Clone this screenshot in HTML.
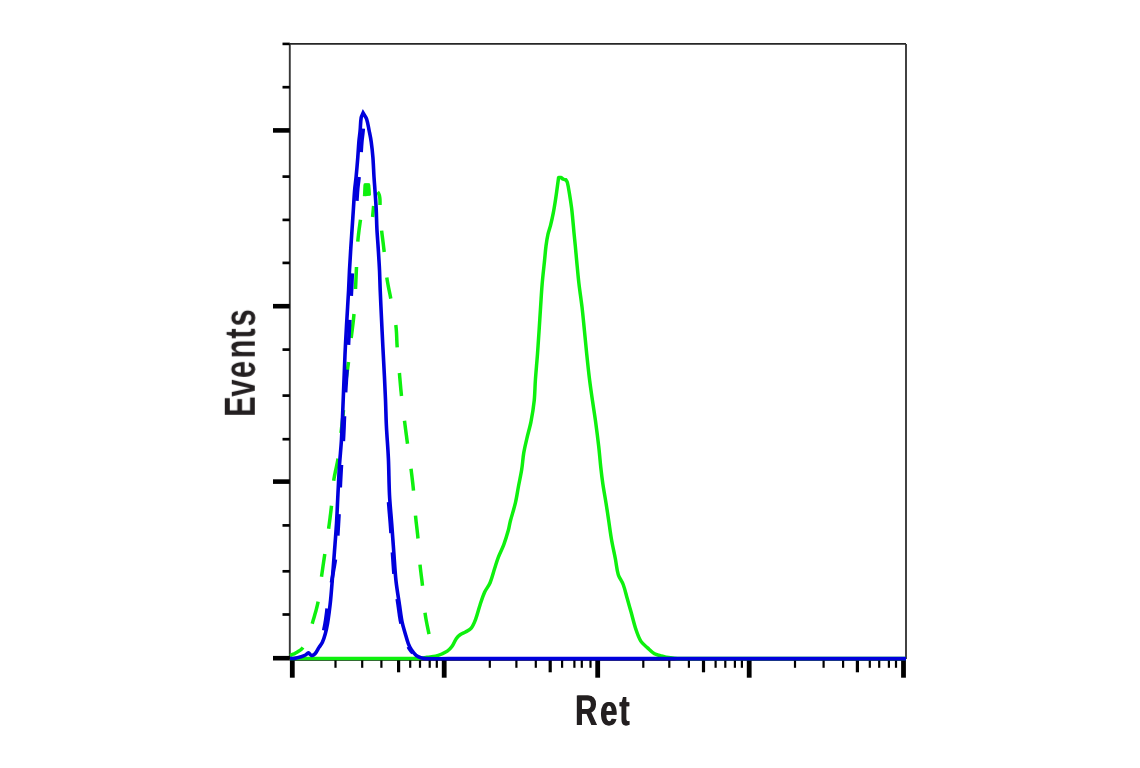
<!DOCTYPE html>
<html><head><meta charset="utf-8"><title>Ret flow cytometry histogram</title>
<style>
html,body{margin:0;padding:0;background:#fff;}
body{width:1140px;height:768px;overflow:hidden;position:relative;font-family:"Liberation Sans",sans-serif;}
svg{position:absolute;left:0;top:0;}
.lbl{font-family:"Liberation Sans",sans-serif;font-weight:bold;fill:#231f20;text-rendering:geometricPrecision;}
</style></head>
<body>
<svg width="1140" height="768" viewBox="0 0 1140 768">
<rect width="1140" height="768" fill="#fff"/>
<line x1="289.8" y1="43.9" x2="906.0" y2="43.9" stroke="#262626" stroke-width="1.7"/>
<line x1="289.8" y1="43.9" x2="289.8" y2="659.0" stroke="#383838" stroke-width="1.9"/>
<line x1="906.0" y1="43.9" x2="906.0" y2="659.0" stroke="#383838" stroke-width="1.9"/>
<line x1="289.8" y1="659.3" x2="906.0" y2="659.3" stroke="#000" stroke-width="3"/>
<line x1="282.5" y1="43.9" x2="289.8" y2="43.9" stroke="#000" stroke-width="2.6"/>
<line x1="282.5" y1="87.2" x2="289.8" y2="87.2" stroke="#000" stroke-width="2.7"/>
<line x1="282.5" y1="176.6" x2="289.8" y2="176.6" stroke="#000" stroke-width="2.7"/>
<line x1="282.5" y1="219.9" x2="289.8" y2="219.9" stroke="#000" stroke-width="2.7"/>
<line x1="282.5" y1="262.9" x2="289.8" y2="262.9" stroke="#000" stroke-width="2.7"/>
<line x1="282.5" y1="349.6" x2="289.8" y2="349.6" stroke="#000" stroke-width="2.7"/>
<line x1="282.5" y1="395.6" x2="289.8" y2="395.6" stroke="#000" stroke-width="2.7"/>
<line x1="282.5" y1="439.2" x2="289.8" y2="439.2" stroke="#000" stroke-width="2.7"/>
<line x1="282.5" y1="525.4" x2="289.8" y2="525.4" stroke="#000" stroke-width="2.7"/>
<line x1="282.5" y1="571.3" x2="289.8" y2="571.3" stroke="#000" stroke-width="2.7"/>
<line x1="282.5" y1="614.5" x2="289.8" y2="614.5" stroke="#000" stroke-width="2.7"/>
<line x1="273" y1="130.4" x2="289.8" y2="130.4" stroke="#000" stroke-width="4.6"/>
<line x1="273" y1="306.2" x2="289.8" y2="306.2" stroke="#000" stroke-width="4.6"/>
<line x1="273" y1="481.6" x2="289.8" y2="481.6" stroke="#000" stroke-width="4.6"/>
<line x1="273" y1="658.2" x2="289.8" y2="658.2" stroke="#000" stroke-width="4.6"/>
<line x1="335.5" y1="659" x2="335.5" y2="667.8" stroke="#000" stroke-width="2.2"/>
<line x1="362.2" y1="659" x2="362.2" y2="667.8" stroke="#000" stroke-width="2.2"/>
<line x1="381.4" y1="659" x2="381.4" y2="667.8" stroke="#000" stroke-width="2.2"/>
<line x1="410.2" y1="659" x2="410.2" y2="667.8" stroke="#000" stroke-width="2.2"/>
<line x1="420.0" y1="659" x2="420.0" y2="667.8" stroke="#000" stroke-width="2.2"/>
<line x1="429.7" y1="659" x2="429.7" y2="667.8" stroke="#000" stroke-width="2.2"/>
<line x1="436.8" y1="659" x2="436.8" y2="667.8" stroke="#000" stroke-width="2.2"/>
<line x1="489.8" y1="659" x2="489.8" y2="667.8" stroke="#000" stroke-width="2.2"/>
<line x1="516.4" y1="659" x2="516.4" y2="667.8" stroke="#000" stroke-width="2.2"/>
<line x1="535.8" y1="659" x2="535.8" y2="667.8" stroke="#000" stroke-width="2.2"/>
<line x1="562.1" y1="659" x2="562.1" y2="667.8" stroke="#000" stroke-width="2.2"/>
<line x1="574.4" y1="659" x2="574.4" y2="667.8" stroke="#000" stroke-width="2.2"/>
<line x1="581.8" y1="659" x2="581.8" y2="667.8" stroke="#000" stroke-width="2.2"/>
<line x1="590.5" y1="659" x2="590.5" y2="667.8" stroke="#000" stroke-width="2.2"/>
<line x1="643.3" y1="659" x2="643.3" y2="667.8" stroke="#000" stroke-width="2.2"/>
<line x1="669.3" y1="659" x2="669.3" y2="667.8" stroke="#000" stroke-width="2.2"/>
<line x1="688.9" y1="659" x2="688.9" y2="667.8" stroke="#000" stroke-width="2.2"/>
<line x1="715.6" y1="659" x2="715.6" y2="667.8" stroke="#000" stroke-width="2.2"/>
<line x1="725.3" y1="659" x2="725.3" y2="667.8" stroke="#000" stroke-width="2.2"/>
<line x1="734.9" y1="659" x2="734.9" y2="667.8" stroke="#000" stroke-width="2.2"/>
<line x1="741.9" y1="659" x2="741.9" y2="667.8" stroke="#000" stroke-width="2.2"/>
<line x1="795.0" y1="659" x2="795.0" y2="667.8" stroke="#000" stroke-width="2.2"/>
<line x1="823.6" y1="659" x2="823.6" y2="667.8" stroke="#000" stroke-width="2.2"/>
<line x1="843.1" y1="659" x2="843.1" y2="667.8" stroke="#000" stroke-width="2.2"/>
<line x1="869.8" y1="659" x2="869.8" y2="667.8" stroke="#000" stroke-width="2.2"/>
<line x1="879.2" y1="659" x2="879.2" y2="667.8" stroke="#000" stroke-width="2.2"/>
<line x1="888.9" y1="659" x2="888.9" y2="667.8" stroke="#000" stroke-width="2.2"/>
<line x1="896.0" y1="659" x2="896.0" y2="667.8" stroke="#000" stroke-width="2.2"/>
<line x1="398.6" y1="659" x2="398.6" y2="672.3" stroke="#000" stroke-width="3.2"/>
<line x1="550.2" y1="659" x2="550.2" y2="672.3" stroke="#000" stroke-width="3.2"/>
<line x1="703.5" y1="659" x2="703.5" y2="672.3" stroke="#000" stroke-width="3.2"/>
<line x1="857.4" y1="659" x2="857.4" y2="672.3" stroke="#000" stroke-width="3.2"/>
<line x1="292.3" y1="659" x2="292.3" y2="677.7" stroke="#000" stroke-width="4.8"/>
<line x1="444.2" y1="659" x2="444.2" y2="677.7" stroke="#000" stroke-width="4.8"/>
<line x1="597.7" y1="659" x2="597.7" y2="677.7" stroke="#000" stroke-width="4.8"/>
<line x1="749.2" y1="659" x2="749.2" y2="677.7" stroke="#000" stroke-width="4.8"/>
<line x1="903.5" y1="659" x2="903.5" y2="677.7" stroke="#000" stroke-width="4.8"/>
<path d="M290.00,655.50 L290.50,655.28 L291.01,655.07 L291.52,654.86 L292.03,654.65 L292.54,654.45 L293.05,654.24 L293.56,654.03 L294.06,653.81 L294.56,653.58 L295.05,653.33 L295.53,653.08 L296.00,652.80 L296.63,652.42 L297.26,652.04 L297.90,651.65 L298.53,651.25 L299.16,650.85 L299.78,650.43 L300.39,649.99 L300.97,649.54 L301.53,649.07 L302.06,648.57 L302.55,648.05 L303.00,647.50 M312.20,623.70 L312.73,621.88 L313.26,620.05 L313.80,618.23 L314.33,616.40 L314.86,614.58 L315.38,612.75 L315.89,610.92 L316.38,609.09 L316.85,607.25 L317.30,605.40 L317.71,603.55 L318.10,601.70 M321.50,576.70 L321.77,574.81 L322.04,572.91 L322.31,571.02 L322.58,569.13 L322.85,567.24 L323.13,565.35 L323.41,563.46 L323.68,561.56 L323.96,559.67 L324.24,557.78 L324.52,555.89 L324.80,554.00 M328.60,528.70 L328.86,526.79 L329.13,524.87 L329.39,522.96 L329.64,521.04 L329.89,519.13 L330.14,517.21 L330.38,515.29 L330.62,513.38 L330.85,511.46 L331.08,509.54 L331.29,507.62 L331.50,505.70 M333.70,480.70 L333.98,478.85 L334.30,477.00 L334.64,475.16 L335.02,473.32 L335.41,471.48 L335.81,469.65 L336.21,467.81 L336.61,465.97 L336.99,464.14 L337.36,462.30 L337.70,460.45 L338.00,458.60 M341.00,433.00 L341.22,431.08 L341.44,429.17 L341.66,427.25 L341.87,425.34 L342.09,423.42 L342.31,421.51 L342.52,419.59 L342.72,417.67 L342.93,415.76 L343.13,413.84 L343.32,411.92 L343.50,410.00 M345.50,385.00 L345.71,383.08 L345.94,381.16 L346.18,379.24 L346.43,377.33 L346.69,375.41 L346.95,373.50 L347.22,371.58 L347.49,369.67 L347.75,367.75 L348.01,365.83 L348.26,363.92 L348.50,362.00 M351.20,338.00 L351.43,336.00 L351.68,334.00 L351.93,332.00 L352.18,330.00 L352.43,328.01 L352.68,326.01 L352.93,324.01 L353.17,322.01 L353.39,320.01 L353.61,318.01 L353.81,316.00 L354.00,314.00 M355.50,289.00 L355.59,287.17 L355.68,285.33 L355.77,283.50 L355.85,281.67 L355.93,279.83 L356.01,278.00 L356.09,276.17 L356.17,274.33 L356.25,272.50 L356.33,270.67 L356.41,268.83 L356.50,267.00 M357.80,241.60 L357.96,239.77 L358.14,237.94 L358.33,236.11 L358.54,234.28 L358.75,232.46 L358.98,230.63 L359.22,228.81 L359.46,226.98 L359.71,225.16 L359.97,223.34 L360.23,221.52 L360.50,219.70 M364.50,196.00 L364.62,195.09 L364.72,194.18 L364.80,193.26 L364.87,192.35 L364.93,191.43 L364.99,190.51 L365.04,189.59 L365.09,188.67 L365.13,187.75 L365.18,186.84 L365.24,185.92 L365.30,185.00 L365.57,185.00 L365.85,185.00 L366.12,185.00 L366.40,185.00 L366.67,185.00 L366.95,185.00 L367.23,185.00 L367.50,185.00 L367.78,185.00 L368.05,185.00 L368.33,185.00 L368.60,185.00 L368.65,185.83 L368.70,186.67 L368.75,187.50 L368.80,188.33 L368.85,189.17 L368.90,190.00 L368.95,190.83 L369.00,191.67 L369.05,192.50 L369.10,193.33 L369.15,194.17 L369.20,195.00 M377.58,191.98 L377.85,192.29 L378.11,192.64 L378.35,193.01 L378.57,193.42 L378.77,193.84 L378.96,194.27 L379.13,194.71 L379.27,195.15 L379.40,195.58 L379.50,196.00 L379.64,196.72 L379.76,197.45 L379.85,198.19 L379.91,198.94 L379.96,199.69 L379.99,200.45 L380.01,201.21 L380.01,201.97 L380.01,202.73 L380.01,203.49 L380.00,204.25 L380.00,205.00 M381.60,230.60 L381.82,232.38 L382.04,234.17 L382.27,235.95 L382.49,237.73 L382.71,239.51 L382.93,241.30 L383.15,243.08 L383.37,244.86 L383.58,246.65 L383.79,248.43 L384.00,250.21 L384.20,252.00 M386.80,277.50 L387.06,279.27 L387.35,281.03 L387.66,282.80 L387.99,284.55 L388.33,286.31 L388.68,288.07 L389.03,289.82 L389.39,291.58 L389.75,293.33 L390.11,295.09 L390.46,296.84 L390.80,298.60 M395.80,325.00 L396.02,326.85 L396.20,328.70 L396.35,330.55 L396.47,332.41 L396.57,334.27 L396.65,336.13 L396.73,337.99 L396.80,339.86 L396.88,341.72 L396.97,343.58 L397.07,345.44 L397.20,347.30 M399.40,373.00 L399.57,374.92 L399.73,376.83 L399.90,378.75 L400.06,380.67 L400.23,382.59 L400.40,384.51 L400.57,386.42 L400.74,388.34 L400.92,390.26 L401.11,392.17 L401.30,394.09 L401.50,396.00 M404.50,420.80 L404.74,422.71 L404.98,424.63 L405.23,426.54 L405.47,428.45 L405.72,430.37 L405.97,432.28 L406.22,434.19 L406.48,436.10 L406.73,438.02 L406.98,439.93 L407.24,441.84 L407.50,443.75 M411.00,468.75 L411.23,470.57 L411.46,472.39 L411.68,474.21 L411.91,476.02 L412.12,477.84 L412.34,479.67 L412.54,481.49 L412.75,483.31 L412.94,485.13 L413.14,486.95 L413.32,488.78 L413.50,490.60 M415.50,515.60 L415.69,517.51 L415.89,519.42 L416.09,521.33 L416.31,523.24 L416.53,525.14 L416.76,527.05 L416.98,528.96 L417.20,530.86 L417.41,532.77 L417.62,534.68 L417.82,536.59 L418.00,538.50 M420.00,564.60 L420.18,566.36 L420.37,568.12 L420.57,569.88 L420.78,571.64 L421.00,573.40 L421.23,575.15 L421.45,576.91 L421.68,578.67 L421.90,580.42 L422.11,582.18 L422.31,583.94 L422.50,585.70 M425.00,612.80 L425.25,614.59 L425.53,616.39 L425.83,618.17 L426.15,619.96 L426.48,621.74 L426.83,623.53 L427.19,625.31 L427.55,627.09 L427.91,628.86 L428.28,630.64 L428.64,632.42 L429.00,634.20" fill="none" stroke="#0ef00e" stroke-width="3.5" stroke-linecap="butt" stroke-linejoin="round"/>
<path d="M290.00,658.50 C333.33,658.47 376.69,658.78 420.00,658.40 C422.36,658.38 424.66,657.63 427.00,657.30 C429.83,656.90 432.73,656.82 435.50,656.20 C437.66,655.72 439.76,654.87 441.80,654.00 C443.69,653.20 445.66,652.40 447.30,651.20 C449.03,649.93 450.66,648.35 451.90,646.60 C453.69,644.08 454.64,640.93 456.40,638.40 C457.37,637.00 458.71,635.78 460.10,634.80 C461.74,633.65 463.75,633.03 465.50,632.00 C467.39,630.89 469.68,630.06 471.00,628.40 C473.05,625.83 474.39,622.46 475.60,619.30 C477.42,614.56 478.49,609.53 480.10,604.70 C481.52,600.43 482.84,596.08 484.70,592.00 C486.17,588.78 488.73,586.06 490.10,582.80 C492.06,578.16 493.15,573.13 494.70,568.30 C495.88,564.63 496.92,560.90 498.30,557.30 C499.95,553.00 502.20,548.92 503.80,544.60 C505.57,539.82 507.03,534.91 508.40,530.00 C509.16,527.28 509.49,524.44 510.20,521.70 C511.83,515.41 513.92,509.22 515.40,502.90 C516.69,497.41 517.45,491.80 518.50,486.25 C519.55,480.70 520.82,475.18 521.70,469.60 C522.57,464.06 522.83,458.43 523.75,452.90 C524.57,447.99 525.77,443.15 526.90,438.30 C528.19,432.75 529.91,427.29 531.00,421.70 C532.35,414.79 533.46,407.80 534.20,400.80 C534.93,393.90 534.91,386.93 535.40,380.00 C536.01,371.26 536.85,362.54 537.50,353.80 C538.08,345.97 538.58,338.13 539.10,330.30 C539.62,322.50 540.08,314.70 540.60,306.90 C541.12,299.07 541.53,291.22 542.20,283.40 C542.87,275.59 543.81,267.80 544.60,260.00 C545.07,255.33 545.39,250.65 546.00,246.00 C546.52,242.05 547.14,238.09 548.00,234.20 C548.68,231.12 549.84,228.16 550.60,225.10 C551.57,221.23 552.43,217.32 553.20,213.40 C553.96,209.52 554.58,205.61 555.20,201.70 C555.75,198.27 556.22,194.84 556.70,191.40 C557.35,186.74 557.97,182.07 558.60,177.40 C559.40,177.40 560.20,177.40 561.00,177.40 C561.80,178.03 562.51,178.86 563.40,179.30 C564.14,179.66 565.07,179.63 565.90,179.80 C566.40,180.73 567.14,181.58 567.40,182.60 C568.34,186.32 568.87,190.19 569.50,194.00 C570.27,198.66 570.99,203.32 571.60,208.00 C572.06,211.52 572.36,215.06 572.70,218.60 C573.16,223.36 573.55,228.14 574.00,232.90 C574.41,237.24 574.88,241.56 575.30,245.90 C575.75,250.60 576.15,255.30 576.60,260.00 C577.35,267.80 578.00,275.61 578.90,283.40 C579.80,291.25 581.08,299.05 582.00,306.90 C582.91,314.69 583.62,322.50 584.40,330.30 C585.18,338.13 585.88,345.97 586.70,353.80 C587.61,362.54 588.52,371.28 589.60,380.00 C590.46,386.95 591.50,393.87 592.50,400.80 C593.50,407.77 594.65,414.72 595.60,421.70 C596.73,430.02 597.80,438.36 598.75,446.70 C599.54,453.62 600.03,460.58 600.80,467.50 C601.42,473.08 602.08,478.65 602.90,484.20 C603.82,490.45 605.01,496.66 606.00,502.90 C606.91,508.59 607.74,514.30 608.60,520.00 C609.58,526.50 610.37,533.03 611.50,539.50 C612.64,546.03 614.14,552.49 615.40,559.00 C616.41,564.23 616.76,569.66 618.30,574.70 C619.36,578.16 621.92,581.10 623.20,584.50 C624.85,588.90 625.80,593.57 627.10,598.10 C628.40,602.67 629.71,607.23 631.00,611.80 C632.65,617.66 633.97,623.64 635.90,629.40 C637.24,633.40 638.58,637.59 640.80,641.10 C642.48,643.76 645.25,645.72 647.60,647.90 C649.82,649.96 651.97,652.25 654.50,653.80 C656.20,654.85 658.35,655.12 660.30,655.70 C661.92,656.18 663.53,656.76 665.20,657.00 C670.10,657.70 675.04,658.47 680.00,658.50 C755.31,658.97 830.67,658.50 906.00,658.50" fill="none" stroke="#0ef00e" stroke-width="3.5" stroke-linejoin="round"/>
<path d="M373.6,206.0 L372.6,217.0" fill="none" stroke="#0ef00e" stroke-width="3.5"/>
<path d="M363.3,196.2 L363.8,183.4 L369.8,183.4 L370.6,195.8 Z" fill="#0ef00e" stroke="none"/>
<path d="M361.17,152.10 L361.25,150.80 L361.33,149.50 L361.42,148.20 L361.50,146.90 L361.59,145.60 L361.69,144.30 L361.79,143.00 L361.90,141.70 L361.98,140.81 L362.07,139.91 L362.17,139.02 L362.27,138.13 L362.38,137.24 L362.49,136.35 L362.60,135.46 L362.71,134.57 L362.81,133.68 L362.91,132.78 L363.01,131.89 L363.10,131.00 L363.20,129.86 L363.29,128.68 M356.91,200.87 L357.01,199.25 L357.11,197.62 L357.22,196.00 L357.33,194.37 L357.44,192.75 L357.57,191.12 L357.70,189.50 L357.79,188.46 L357.90,187.41 L358.01,186.37 L358.13,185.33 L358.25,184.29 L358.38,183.25 L358.51,182.21 L358.64,181.17 L358.76,180.13 L358.88,179.08 L358.99,178.04 L359.10,177.00 M351.27,295.97 L351.44,292.98 L351.60,290.00 L351.69,288.33 L351.77,286.67 L351.84,285.00 L351.91,283.33 L351.98,281.67 L352.05,280.00 L352.12,278.33 L352.19,276.67 L352.26,275.00 L352.34,273.33 M348.52,344.93 L348.64,342.54 L348.76,340.15 L348.88,337.76 L349.00,335.37 L349.12,332.97 L349.24,330.58 L349.37,328.19 L349.50,325.80 L349.67,322.82 L349.84,319.83 M345.63,392.41 L345.85,388.62 L346.09,384.83 L346.33,381.04 L346.57,377.25 L346.82,373.46 L347.06,369.67 M343.37,441.17 L343.50,439.00 L343.68,435.75 L343.83,432.50 L343.98,429.25 L344.12,426.00 L344.24,422.75 L344.37,419.50 L344.49,416.25 M340.28,487.50 L340.40,485.00 L340.52,482.50 L340.65,480.00 L340.78,477.50 L340.91,475.00 L341.05,472.50 L341.19,470.00 L341.34,467.50 L341.50,465.00 M337.80,535.63 L337.95,533.25 L338.08,530.86 L338.22,528.47 L338.36,526.09 L338.50,523.70 L338.64,521.31 L338.77,518.92 L338.90,516.53 L339.01,514.14 M331.44,582.59 L331.72,581.00 L332.14,578.61 L332.57,576.23 L333.00,573.84 L333.42,571.45 L333.84,569.06 L334.26,566.68 L334.66,564.29 L335.05,561.89 L335.42,559.50 M323.64,630.46 L323.83,629.62 L324.01,628.78 L324.19,627.93 L324.36,627.09 L324.53,626.24 L324.69,625.39 L324.85,624.55 L325.00,623.70 L325.16,622.79 L325.31,621.87 L325.46,620.96 L325.60,620.04 L325.74,619.13 L325.87,618.21 L325.99,617.29 L326.12,616.37 L326.24,615.46 L326.36,614.54 L326.48,613.62 L326.60,612.70 L326.73,611.64 L326.86,610.58 L326.97,609.52 L327.08,608.46 M388.55,502.18 L388.73,504.57 L388.92,506.96 L389.11,509.35 L389.31,511.75 L389.52,514.14 L389.72,516.53 L389.92,518.92 L390.12,521.31 L390.30,523.70 L390.48,526.08 L390.65,528.47 L390.83,530.85 L391.00,533.23 M392.40,552.30 L392.57,554.69 L392.74,557.09 L392.90,559.48 L393.06,561.87 L393.22,564.27 L393.38,566.66 L393.55,569.06 L393.73,571.45 L393.92,573.84 M397.18,599.01 L397.49,601.00 L397.80,603.00 L398.10,605.00 L398.30,606.39 L398.49,607.79 L398.68,609.18 L398.87,610.58 L399.05,611.98 L399.24,613.37 L399.44,614.77 L399.64,616.16 L399.86,617.55 L400.09,618.94 L400.33,620.32 L400.60,621.70 L400.81,622.69 L401.04,623.67 M408.28,646.79 L408.54,647.31 L408.81,647.82 L409.09,648.33 L409.39,648.83 L409.69,649.32 L410.00,649.80 L410.34,650.29 L410.70,650.77 L411.07,651.24 L411.46,651.70 L411.86,652.16 L412.26,652.61 L412.67,653.06" fill="none" stroke="#0000dc" stroke-width="3.6" stroke-linecap="butt" stroke-linejoin="round"/>
<path d="M290.00,658.50 C291.50,658.47 293.03,658.64 294.50,658.40 C296.76,658.04 299.00,657.38 301.20,656.70 C302.67,656.25 304.15,655.71 305.50,655.00 C306.55,654.45 307.46,652.84 308.40,652.90 C309.43,652.97 310.30,655.19 311.40,655.40 C312.43,655.59 314.00,654.94 314.80,654.10 C316.53,652.27 317.57,649.62 319.00,647.40 C320.11,645.68 321.55,644.14 322.40,642.30 C323.65,639.61 324.51,636.68 325.30,633.80 C326.21,630.48 326.89,627.09 327.50,623.70 C328.16,620.06 328.62,616.37 329.10,612.70 C329.65,608.47 330.19,604.24 330.60,600.00 C331.22,593.68 331.70,587.34 332.20,581.00 C332.96,571.44 333.68,561.87 334.40,552.30 C335.12,542.77 335.92,533.24 336.50,523.70 C337.08,514.14 337.41,504.57 337.90,495.00 C338.41,485.00 338.86,474.99 339.50,465.00 C340.06,456.33 341.01,447.68 341.50,439.00 C342.24,426.01 342.66,413.00 343.20,400.00 C343.83,384.83 344.33,369.66 345.00,354.50 C345.43,344.93 345.97,335.36 346.50,325.80 C347.17,313.86 347.96,301.94 348.60,290.00 C348.96,283.34 349.15,276.66 349.50,270.00 C349.88,262.70 350.34,255.40 350.80,248.10 C351.21,241.60 351.67,235.10 352.10,228.60 C352.53,222.07 352.97,215.53 353.40,209.00 C353.83,202.50 354.15,195.99 354.70,189.50 C355.05,185.32 355.70,181.17 356.10,177.00 C356.73,170.44 357.28,163.87 357.80,157.30 C358.21,152.10 358.45,146.89 358.90,141.70 C359.21,138.13 359.76,134.57 360.10,131.00 C360.53,126.51 360.47,121.91 361.20,117.50 C361.47,115.91 362.47,114.50 363.10,113.00 C364.27,115.00 365.87,116.83 366.60,119.00 C367.90,122.83 368.39,126.99 369.20,131.00 C369.92,134.56 370.69,138.11 371.20,141.70 C371.93,146.88 372.49,152.09 372.90,157.30 C373.42,163.85 373.59,170.44 374.00,177.00 C374.26,181.17 374.61,185.33 374.90,189.50 C375.35,196.00 375.87,202.49 376.20,209.00 C376.53,215.53 376.57,222.07 376.90,228.60 C377.23,235.11 377.79,241.60 378.20,248.10 C378.66,255.40 379.15,262.70 379.50,270.00 C379.82,276.66 379.93,283.33 380.20,290.00 C380.59,299.53 381.05,309.07 381.50,318.60 C381.95,328.17 382.42,337.73 382.90,347.30 C383.38,356.83 383.93,366.37 384.40,375.90 C384.80,383.93 385.18,391.96 385.50,400.00 C385.85,408.66 385.97,417.34 386.40,426.00 C386.94,436.87 387.91,447.73 388.40,458.60 C388.94,470.73 388.89,482.88 389.50,495.00 C389.99,504.58 390.98,514.13 391.70,523.70 C392.42,533.23 393.08,542.77 393.80,552.30 C394.52,561.87 394.97,571.47 396.00,581.00 C396.87,589.03 398.32,597.00 399.50,605.00 C400.32,610.57 400.89,616.19 402.00,621.70 C402.79,625.66 404.08,629.51 405.20,633.40 C406.18,636.81 407.05,640.29 408.30,643.60 C409.11,645.75 410.13,647.89 411.40,649.80 C412.73,651.79 414.29,653.78 416.10,655.30 C417.42,656.41 419.15,657.16 420.80,657.70 C422.53,658.26 424.41,658.56 426.25,658.60 C437.48,658.86 448.75,658.60 460.00,658.60 C608.67,658.60 757.33,658.60 906.00,658.60" fill="none" stroke="#0000dc" stroke-width="3.6" stroke-linejoin="miter" stroke-miterlimit="6"/>
<g opacity="0.999"><text class="lbl" font-size="100" transform="translate(-0.4,725) scale(0.30800,0.43000)" x="1867.34 1948.93 2011.01">Ret</text><text class="lbl" font-size="100" transform="translate(0.4,725) scale(0.30800,0.43000)" x="1867.34 1948.93 2011.01">Ret</text>
<text class="lbl" font-size="43.5" transform="translate(254.8,416.86) rotate(-90) scale(0.708,1)" x="0 28.6 54.84 82.56 110.52 128.0">Events</text></g>
</svg>
</body></html>
